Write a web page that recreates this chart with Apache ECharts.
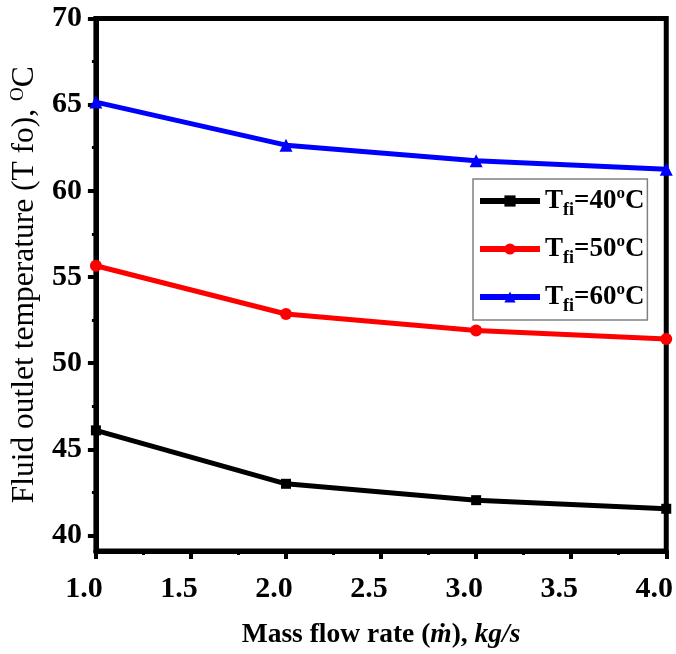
<!DOCTYPE html>
<html>
<head>
<meta charset="utf-8">
<script src="https://cdn.jsdelivr.net/npm/echarts@6/dist/echarts.min.js"></script>
<style>html,body{margin:0;padding:0;background:#fff}#c{width:676px;height:654px}</style>
</head>
<body>
<div id="c"></div>
<script>
var massFlow = [1.0, 2.0, 3.0, 4.0];
var tfi40 = [46.1, 43.0, 42.05, 41.55];
var tfi50 = [55.65, 52.85, 51.9, 51.4];
var tfi60 = [65.15, 62.65, 61.75, 61.25];
var seriesNames = ['Tfi=40', 'Tfi=50', 'Tfi=60'];
var yLabelValues = [40, 45, 50, 55, 60, 65, 70];
var yMinorValues = [42.5, 47.5, 52.5, 57.5, 62.5, 67.5];

function pairs(ys) { return massFlow.map(function (x, i) { return [x, ys[i]]; }); }

var FONT = '"Liberation Serif", "Times New Roman", serif';
var chart = echarts.init(document.getElementById('c'), null, { renderer: 'canvas' });

var option = {
  animation: false,
  backgroundColor: '#fff',
  grid: { left: 93, right: 7, top: 18.5, bottom: 103, show: true, borderColor: '#000', borderWidth: 5, backgroundColor: 'transparent' },
  legend: {
    orient: 'vertical',
    left: 473, top: 179,
    padding: [4, 3, 5, 4],
    itemGap: 12,
    itemWidth: 60, itemHeight: 14,
    borderColor: '#808080', borderWidth: 1.5,
    backgroundColor: '#fff',
    lineStyle: { width: 6 },
    data: seriesNames,
    formatter: function (n) {
      var v = n.split('=')[1];
      return '{sup|}{t|T}{sub|fi}{t|=' + v + '}{sup|o}{t|C}';
    },
    textStyle: {
      fontFamily: FONT, fontWeight: 'bold', color: '#000',
      rich: {
        t: { fontFamily: FONT, fontWeight: 'bold', fontSize: 27, lineHeight: 36, verticalAlign: 'middle', color: '#000' },
        sub: { fontFamily: FONT, fontWeight: 'bold', fontSize: 18, lineHeight: 18, verticalAlign: 'bottom', color: '#000' },
        sup: { fontFamily: FONT, fontWeight: 'bold', fontSize: 17, lineHeight: 17, verticalAlign: 'top', color: '#000', padding: [2, 0, 0, 0] }
      }
    }
  },
  xAxis: {
    type: 'value', min: 1, max: 4, interval: 0.5,
    name: '{b|Mass flow rate (}{i|ṁ}{b|), }{i|kg/s}',
    nameLocation: 'middle', nameGap: 70,
    nameTextStyle: {
      rich: {
        b: { fontFamily: FONT, fontWeight: 'bold', fontSize: 27.5, color: '#000' },
        i: { fontFamily: FONT, fontWeight: 'bold', fontStyle: 'italic', fontSize: 27.5, color: '#000' }
      }
    },
    axisLine: { show: true, lineStyle: { color: '#000', width: 5 } },
    axisTick: { show: true, inside: false, length: 8, lineStyle: { color: '#000', width: 4 } },
    minorTick: { show: true, splitNumber: 2, length: 4, lineStyle: { color: '#000', width: 3 } },
    splitLine: { show: false },
    minorSplitLine: { show: false },
    axisLabel: {
      formatter: function (v) { return v.toFixed(1); },
      fontFamily: FONT, fontWeight: 'bold', fontSize: 30, color: '#000',
      margin: 23, padding: [0, 24, 0, 0]
    }
  },
  yAxis: [{
    type: 'value', min: 39.1, max: 70,
    name: '{r|Fluid outlet temperature (T fo), }{s|O}{r|C}',
    nameLocation: 'middle', nameGap: 51, nameRotate: 90,
    nameTextStyle: {
      rich: {
        r: { fontFamily: FONT, fontSize: 31.5, color: '#000', lineHeight: 34, verticalAlign: 'middle' },
        s: { fontFamily: FONT, fontSize: 19, color: '#000', lineHeight: 19, verticalAlign: 'top', padding: [1, 0, 0, 0] }
      }
    },
    axisLine: { show: true, lineStyle: { color: '#000', width: 5 } },
    axisTick: { show: true, inside: false, length: 8, customValues: yLabelValues, lineStyle: { color: '#000', width: 4 } },
    splitLine: { show: false },
    axisLabel: {
      customValues: yLabelValues,
      fontFamily: FONT, fontWeight: 'bold', fontSize: 30, color: '#000', margin: 14
    }
  }, {
    type: 'value', min: 39.1, max: 70, position: 'left', offset: 0,
    axisLine: { show: false },
    axisTick: { show: true, inside: false, length: 4, customValues: yMinorValues, lineStyle: { color: '#000', width: 3 } },
    axisLabel: { show: false },
    splitLine: { show: false }
  }],
  series: [
    { name: seriesNames[0], type: 'line', data: pairs(tfi40), color: '#000', symbol: 'rect', symbolSize: 10, lineStyle: { width: 5, color: '#000' }, itemStyle: { color: '#000' } },
    { name: seriesNames[1], type: 'line', data: pairs(tfi50), color: '#ff0000', symbol: 'circle', symbolSize: 12, lineStyle: { width: 5, color: '#ff0000' }, itemStyle: { color: '#ff0000' } },
    { name: seriesNames[2], type: 'line', data: pairs(tfi60), color: '#0000ff', symbol: 'triangle', symbolSize: 13, lineStyle: { width: 5, color: '#0000ff' }, itemStyle: { color: '#0000ff' } }
  ]
};
chart.setOption(option);
</script>
</body>
</html>
